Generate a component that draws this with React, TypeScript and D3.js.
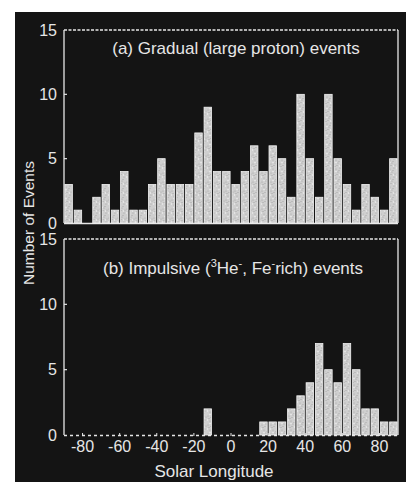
import React from "react";
import * as d3 from "d3";

// 5-degree longitude bins (left edges)
const binStarts = [
  -90, -85, -80, -75, -70, -65, -60, -55, -50, -45, -40, -35,
  -30, -25, -20, -15, -10, -5, 0, 5, 10, 15, 20, 25,
  30, 35, 40, 45, 50, 55, 60, 65, 70, 75, 80, 85,
];
const binWidth = 5;

// (a) Gradual (large proton) events per bin
const gradualCounts = [
  3, 1, 0, 2, 3, 1, 4, 1, 1, 3, 5, 3,
  3, 3, 7, 9, 4, 4, 3, 4, 6, 4, 6, 5,
  2, 10, 5, 2, 10, 5, 3, 1, 3, 2, 1, 5,
];

// (b) Impulsive (3He-, Fe-rich) events per bin
const impulsiveCounts = [
  0, 0, 0, 0, 0, 0, 0, 0, 0, 0, 0, 0,
  0, 0, 0, 2, 0, 0, 0, 0, 0, 1, 1, 1,
  2, 3, 4, 7, 5, 4, 7, 5, 2, 2, 1, 1,
];

const xTicks = [-80, -60, -40, -20, 0, 20, 40, 60, 80];
const yTicks = [0, 5, 10, 15];

const W = 406;
const H = 482;
const FONT = "'Liberation Sans', Arial, Helvetica, sans-serif";
const INK = "#e6e6e6";
const BAR = "#cfcfcf";

const x = d3.scaleLinear().domain([-90, 90]).range([64, 398]);
const yA = d3.scaleLinear().domain([0, 15]).range([223, 30]);
const yB = d3.scaleLinear().domain([0, 15]).range([435, 239]);

// speckle positions inside one 9x9 texture tile
const speckDark = [
  [1, 2], [5, 1], [7, 6], [3, 7], [2, 4.5], [8, 3], [6, 8.5], [4, 3.5],
];
const speckLight = [[0.5, 6], [6.5, 4], [3, 0.5]];

type PanelProps = {
  y: d3.ScaleLinear<number, number>;
  counts: number[];
  title: React.ReactNode;
  titleX: number;
  titleY: number;
  dottedBase: boolean;
};

function Panel({ y, counts, title, titleX, titleY, dottedBase }: PanelProps) {
  const [x0, x1] = x.range();
  const yTop = y(15);
  const yBase = y(0);
  return (
    <g>
      {/* frame */}
      <line x1={x0} x2={x1} y1={yTop} y2={yTop} stroke={INK} strokeWidth={1.3} strokeDasharray="3 1.5" />
      <line x1={x0} x2={x0} y1={yTop} y2={yBase} stroke={INK} strokeWidth={1.3} />
      <line x1={x1} x2={x1} y1={yTop} y2={yBase} stroke={INK} strokeWidth={1.3} />
      <line
        x1={x0}
        x2={x1}
        y1={yBase + 0.5}
        y2={yBase + 0.5}
        stroke={INK}
        strokeWidth={1.3}
        strokeDasharray={dottedBase ? "3 3" : undefined}
      />
      {/* y ticks */}
      {yTicks.map((t) => (
        <g key={t}>
          {t > 0 && t < 15 && (
            <line x1={x0} x2={x0 + 3} y1={y(t)} y2={y(t)} stroke={INK} strokeWidth={1.2} />
          )}
          <text
            x={57}
            y={y(t)}
            dy="0.36em"
            textAnchor="end"
            fontSize={16}
            fontFamily={FONT}
            fill={INK}
          >
            {t}
          </text>
        </g>
      ))}
      {/* bars */}
      {counts.map((c, i) =>
        c > 0 ? (
          <rect
            key={i}
            x={x(binStarts[i]) + 0.9}
            width={x(binStarts[i] + binWidth) - x(binStarts[i]) - 1.8}
            y={y(c)}
            height={yBase - y(c)}
            fill="url(#stipple)"
            stroke="#f2f2f2"
            strokeWidth={0.8}
          />
        ) : null
      )}
      <text x={titleX} y={titleY} textAnchor="middle" fontSize={17} fontFamily={FONT} fill={INK}>
        {title}
      </text>
    </g>
  );
}

export default function App() {
  return (
    <svg
      width={W}
      height={H}
      style={{ position: "absolute", left: 0, top: 0, background: "#ffffff" }}
    >
      <defs>
        <pattern id="stipple" width={9} height={9} patternUnits="userSpaceOnUse">
          <rect width={9} height={9} fill={BAR} />
          {speckDark.map(([cx, cy], k) => (
            <circle key={`d${k}`} cx={cx} cy={cy} r={0.55} fill="#a2a2a2" />
          ))}
          {speckLight.map(([cx, cy], k) => (
            <circle key={`l${k}`} cx={cx} cy={cy} r={0.7} fill="#efefef" />
          ))}
        </pattern>
      </defs>
      <rect x={15} y={12} width={W - 15} height={H - 12} fill="#141414" />

      <Panel
        y={yA}
        counts={gradualCounts}
        title="(a) Gradual (large proton) events"
        titleX={236}
        titleY={54}
        dottedBase={false}
      />
      <Panel
        y={yB}
        counts={impulsiveCounts}
        title={
          <>
            {"(b) Impulsive ("}
            <tspan fontSize={11} dy={-7}>3</tspan>
            <tspan dy={7}>He</tspan>
            <tspan fontSize={11} dy={-7}>-</tspan>
            <tspan dy={7}>, Fe</tspan>
            <tspan fontSize={11} dy={-7}>-</tspan>
            <tspan dy={7}>rich) events</tspan>
          </>
        }
        titleX={233}
        titleY={274}
        dottedBase={true}
      />

      {/* x axis ticks and labels */}
      {xTicks.map((t) => (
        <g key={t}>
          <line x1={x(t)} x2={x(t)} y1={yB(0) - 2} y2={yB(0) + 1} stroke={INK} strokeWidth={1} />
          <text
            x={x(t)}
            y={452}
            textAnchor="middle"
            fontSize={16}
            fontFamily={FONT}
            fill={INK}
          >
            {t < 0 ? `-${Math.abs(t)}` : t}
          </text>
        </g>
      ))}
      <text x={214} y={477} textAnchor="middle" fontSize={17} fontFamily={FONT} fill={INK}>
        Solar Longitude
      </text>
      <text
        transform="translate(34,223) rotate(-90)"
        textAnchor="middle"
        fontSize={15.5}
        fontFamily={FONT}
        fill={INK}
      >
        Number of Events
      </text>
    </svg>
  );
}
